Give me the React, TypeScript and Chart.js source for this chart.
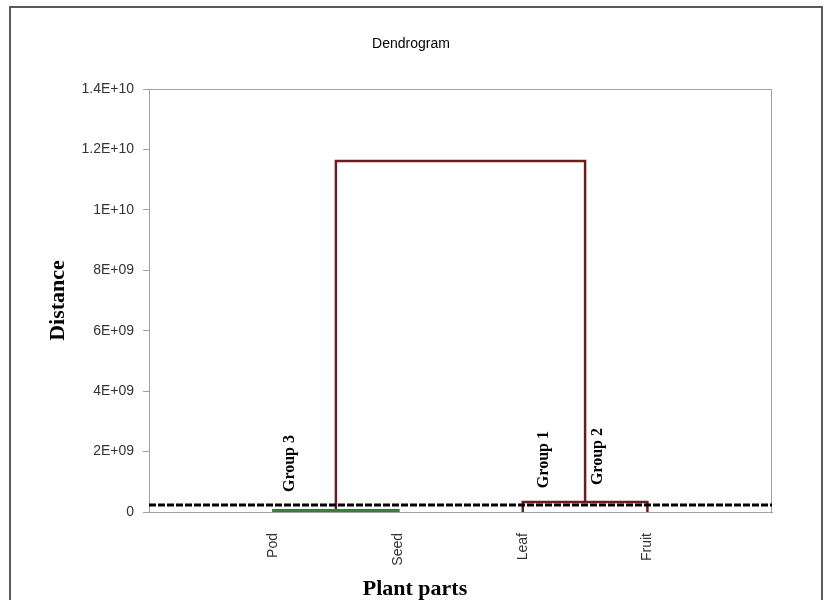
import React, { useEffect, useRef } from "react";
import { Chart, registerables } from "chart.js";

Chart.register(...registerables);

// ---- data ----
const categories = ["Pod", "Seed", "Leaf", "Fruit"];
const categoryPos = [1, 2, 3, 4];
// merge heights (Distance)
const podSeedHeight = 5e7;
const leafFruitHeight = 3.3e8;
const rootHeight = 1.162e10;
const cutoffHeight = 2.3e8;
// group annotations (data coordinates of the start of the text)
const groupLabels = ["Group 3", "Group 1", "Group 2"];
const groupX = [1.13, 3.17, 3.6];
const groupY = [6.6e8, 7.9e8, 8.9e8];
// axis
const xMin = 0;
const xMax = 5;
const yMin = 0;
const yMax = 1.4e10;
const yStep = 2e9;

function fmtExcel(v: number): string {
  if (v === 0) return "0";
  const e = Math.floor(Math.log10(v) + 1e-9);
  const m = Math.round((v / Math.pow(10, e)) * 100) / 100;
  const es = e < 10 ? "0" + e : String(e);
  return `${m}E+${es}`;
}

const pt = (x: number, y: number) => ({ x, y });

export default function App() {
  const ref = useRef<HTMLCanvasElement | null>(null);

  useEffect(() => {
    if (!ref.current) return;

    const green = [
      pt(categoryPos[0], 0),
      pt(categoryPos[0], podSeedHeight),
      pt(categoryPos[1], podSeedHeight),
      pt(categoryPos[1], 0),
    ];
    const leafFruit = [
      pt(categoryPos[2], 0),
      pt(categoryPos[2], leafFruitHeight),
      pt(categoryPos[3], leafFruitHeight),
      pt(categoryPos[3], 0),
    ];
    const m1 = (categoryPos[0] + categoryPos[1]) / 2;
    const m2 = (categoryPos[2] + categoryPos[3]) / 2;
    const root = [
      pt(m1, podSeedHeight),
      pt(m1, rootHeight),
      pt(m2, rootHeight),
      pt(m2, leafFruitHeight),
    ];
    const cutoff = [pt(xMin, cutoffHeight), pt(xMax, cutoffHeight)];

    const frame = {
      id: "frame",
      beforeDatasetsDraw(chart: any) {
        const { ctx, chartArea: a } = chart;
        ctx.save();
        ctx.strokeStyle = "#a0a0a0";
        ctx.lineWidth = 1;
        ctx.strokeRect(a.left + 0.5, a.top + 0.5, a.right - a.left - 1, a.bottom - a.top);
        ctx.restore();
      },
      afterDraw(chart: any) {
        const { ctx, scales } = chart;
        ctx.save();
        ctx.fillStyle = "#000";
        ctx.font = "bold 16px 'Liberation Serif'";
        ctx.textAlign = "left";
        ctx.textBaseline = "middle";
        groupLabels.forEach((t, i) => {
          const px = scales.x.getPixelForValue(groupX[i]);
          const py = scales.y.getPixelForValue(groupY[i]);
          ctx.save();
          ctx.translate(px, py);
          ctx.rotate(-Math.PI / 2);
          ctx.fillText(t, 0, 0);
          ctx.restore();
        });
        ctx.font = "bold 22px 'Liberation Serif'";
        ctx.textAlign = "center";
        ctx.fillText("Plant parts", 415, 589);
        ctx.font = "14px 'Liberation Sans'";
        ctx.fillText("Dendrogram", 411, 44);
        ctx.restore();
      },
    };

    const chart = new Chart(ref.current, {
      type: "scatter",
      data: {
        datasets: [
          {
            label: "cutoff",
            data: cutoff,
            showLine: true,
            borderColor: "#000",
            borderWidth: 3,
            borderDash: [7, 2],
            pointRadius: 0,
            order: 0,
          },
          {
            label: "Pod-Seed",
            data: green,
            showLine: true,
            borderColor: "#3a7d3a",
            borderWidth: 3,
            pointRadius: 0,
            order: 1,
          },
          {
            label: "Leaf-Fruit",
            data: leafFruit,
            showLine: true,
            borderColor: "#6b1e1e",
            borderWidth: 2.5,
            pointRadius: 0,
            order: 2,
          },
          {
            label: "root",
            data: root,
            showLine: true,
            borderColor: "#6b1e1e",
            borderWidth: 2.5,
            pointRadius: 0,
            order: 3,
          },
        ],
      },
      options: {
        responsive: false,
        animation: false,
        layout: { padding: { top: 89, right: 52, left: 0, bottom: 0 } },
        plugins: {
          legend: { display: false },
          tooltip: { enabled: false },
          title: { display: false },
        },
        scales: {
          x: {
            type: "linear",
            min: xMin,
            max: xMax,
            afterBuildTicks: (s: any) => {
              s.ticks = categoryPos.map((v) => ({ value: v }));
            },
            afterFit: (s: any) => {
              s.height = 88;
            },
            ticks: {
              autoSkip: false,
              minRotation: 90,
              maxRotation: 90,
              padding: 21,
              color: "#333",
              font: { family: "'Liberation Sans'", size: 14 },
              callback: (_v: any, i: number) => categories[i],
            },
            grid: { display: false, drawTicks: false },
            border: { color: "#a0a0a0", width: 1 },
          },
          y: {
            min: yMin,
            max: yMax,
            afterFit: (s: any) => {
              s.width = 149;
            },
            ticks: {
              stepSize: yStep,
              padding: 9,
              color: "#333",
              font: { family: "'Liberation Sans'", size: 14 },
              callback: (v: any) => fmtExcel(Number(v)),
            },
            grid: { drawOnChartArea: false, tickLength: 6, color: "#a0a0a0" },
            border: { color: "#a0a0a0", width: 1 },
            title: {
              display: true,
              text: "Distance",
              color: "#000",
              font: { family: "'Liberation Serif'", size: 22, weight: "bold" },
              padding: { top: 45, bottom: 0 },
            },
          },
        },
      },
      plugins: [frame],
    } as any);

    return () => chart.destroy();
  }, []);

  return (
    <div style={{ position: "fixed", left: 0, top: 0, width: 824, height: 600, background: "#fff", overflow: "hidden" }}>
      <div
        style={{
          position: "absolute",
          left: 9,
          top: 6,
          width: 814,
          height: 620,
          border: "2px solid #5a5a5a",
          boxSizing: "border-box",
        }}
      />
      <canvas ref={ref} width={824} height={600} style={{ position: "absolute", left: 0, top: 0 }} />
    </div>
  );
}
